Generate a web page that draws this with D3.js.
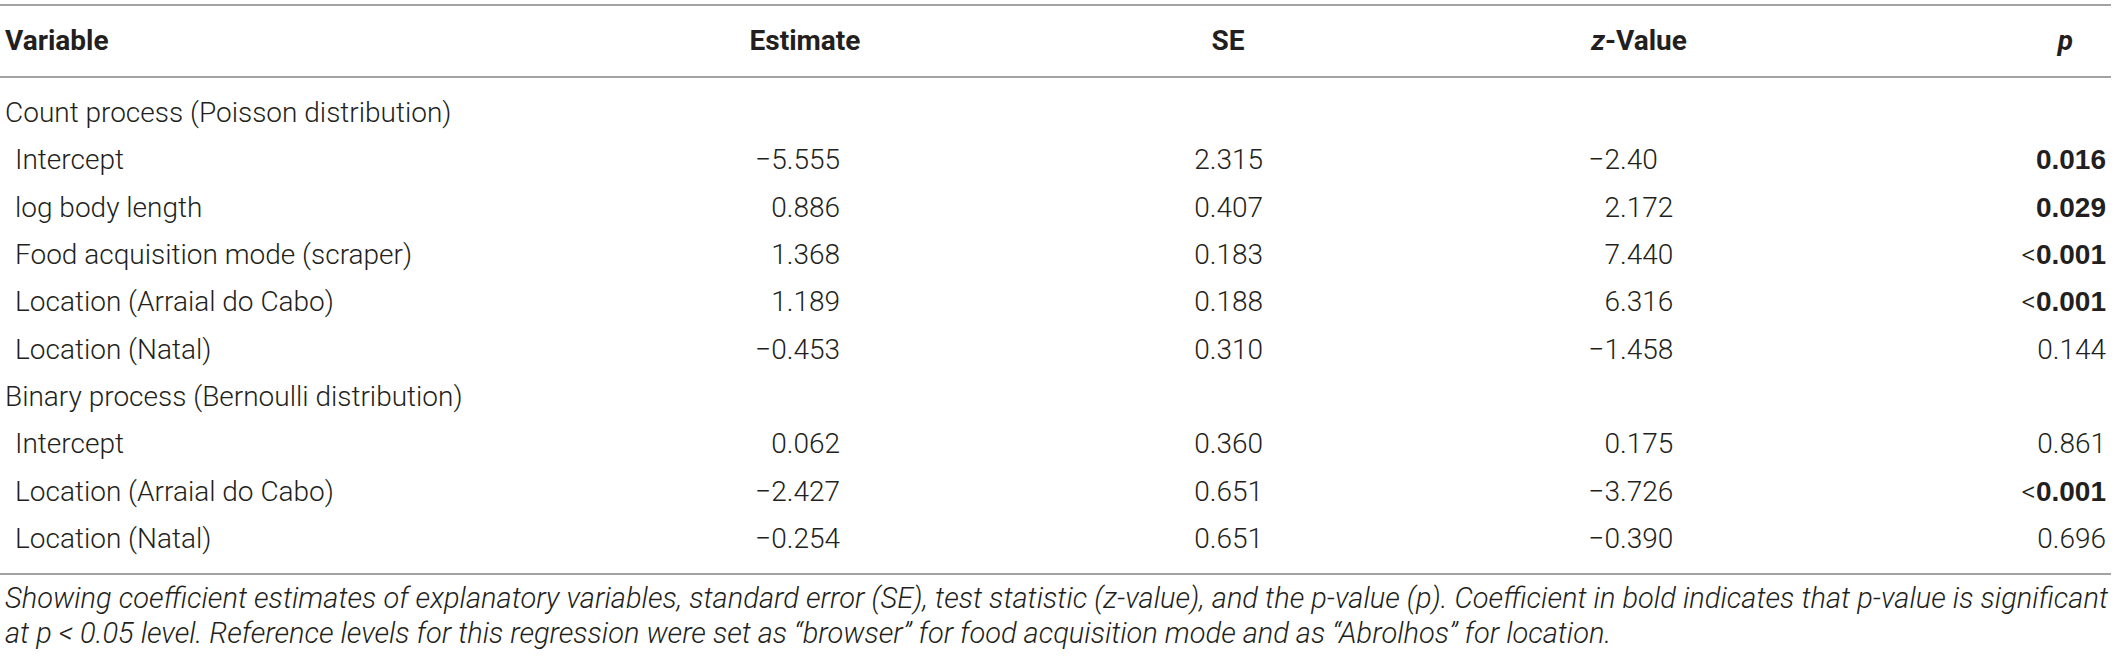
<!DOCTYPE html>
<html>
<head>
<meta charset="utf-8">
<script src="https://cdn.jsdelivr.net/npm/d3@7"></script>
<style>
  body { margin: 0; background: #fff; }
  svg { display: block; }
  text { font-family: Roboto, "Liberation Sans", Arial, sans-serif; fill: #231f20; }
</style>
</head>
<body>
<div id="container"></div>
<script>
// table content
const headers = ["Variable", "Estimate", "SE", "z-Value", "p"]

const variables = [
    "Count process (Poisson distribution)",
    "Intercept",
    "log body length",
    "Food acquisition mode (scraper)",
    "Location (Arraial do Cabo)",
    "Location (Natal)",
    "Binary process (Bernoulli distribution)",
    "Intercept",
    "Location (Arraial do Cabo)",
    "Location (Natal)"
]
const isGroup = [true, false, false, false, false, false, true, false, false, false]

const estimates = ["", "−5.555", "0.886", "1.368", "1.189", "−0.453", "", "0.062", "−2.427", "−0.254"]
const stdErrors = ["", "2.315", "0.407", "0.183", "0.188", "0.310", "", "0.360", "0.651", "0.651"]
const zValues   = ["", "−2.40", "2.172", "7.440", "6.316", "−1.458", "", "0.175", "−3.726", "−0.390"]
const pValues   = ["", "0.016", "0.029", "<0.001", "<0.001", "0.144", "", "0.861", "<0.001", "0.696"]
const pBold     = [false, true, true, true, true, false, false, false, true, false]

const captionLines = [
    "Showing coefficient estimates of explanatory variables, standard error (SE), test statistic (z-value), and the p-value (p). Coefficient in bold indicates that p-value is significant",
    "at p < 0.05 level. Reference levels for this regression were set as \u201cbrowser\u201d for food acquisition mode and as \u201cAbrolhos\u201d for location."
]

const width = 2118, height = 660
const fontSize = 28
const ruleColor = "#a3a3a3"

const svg = d3.select("#container").append("svg")
    .attr("width", width)
    .attr("height", height)

const y = d3.scalePoint()
    .domain(d3.range(variables.length))
    .range([122, 548])

// rules
const rules = [5, 77, 574]
svg.selectAll("line.rule")
    .data(rules)
    .enter()
    .append("line")
    .attr("class", "rule")
    .attr("x1", 0)
    .attr("x2", 2111)
    .attr("y1", d => d)
    .attr("y2", d => d)
    .attr("stroke", ruleColor)
    .attr("stroke-width", 2)

// header
const head = svg.append("g")
    .attr("font-weight", "bold")
    .style("font-family", '"Liberation Sans", Arial, sans-serif')
    .attr("font-size", fontSize)

head.append("text").attr("x", 5).attr("y", 50).text(headers[0])
head.append("text").attr("x", 805).attr("y", 50).attr("text-anchor", "middle").text(headers[1])
head.append("text").attr("x", 1228).attr("y", 50).attr("text-anchor", "middle").text(headers[2])
const zHead = head.append("text").attr("x", 1639).attr("y", 50).attr("text-anchor", "middle")
zHead.append("tspan").attr("font-style", "italic").text(headers[3].slice(0, 1))
zHead.append("tspan").text(headers[3].slice(1))
head.append("text").attr("x", 2073).attr("y", 50).attr("text-anchor", "end")
    .attr("font-style", "italic").text(headers[4])

// body
const body = svg.append("g")
    .attr("font-size", fontSize)
    .attr("font-weight", 300)

body.selectAll("text.var")
    .data(variables)
    .enter()
    .append("text")
    .attr("class", "var")
    .attr("x", (d, i) => isGroup[i] ? 5 : 15)
    .attr("y", (d, i) => y(i))
    .text(d => d)

function rightColumn(values, x, cls){
    body.selectAll("text." + cls)
        .data(values)
        .enter()
        .append("text")
        .attr("class", cls)
        .attr("x", x)
        .attr("y", (d, i) => y(i))
        .attr("text-anchor", "end")
        .text(d => d)
}

rightColumn(estimates, 840, "est")
rightColumn(stdErrors, 1263, "se")

// z-values are lined up on the decimal point
const zDot = 1620
body.selectAll("text.zint")
    .data(zValues)
    .enter()
    .append("text")
    .attr("class", "zint")
    .attr("x", zDot)
    .attr("y", (d, i) => y(i))
    .attr("text-anchor", "end")
    .text(d => d.split(".")[0])
body.selectAll("text.zfrac")
    .data(zValues)
    .enter()
    .append("text")
    .attr("class", "zfrac")
    .attr("x", zDot)
    .attr("y", (d, i) => y(i))
    .text(d => d ? "." + d.split(".")[1] : "")

const pText = body.selectAll("text.p")
    .data(pValues)
    .enter()
    .append("text")
    .attr("class", "p")
    .attr("x", 2106)
    .attr("y", (d, i) => y(i))
    .attr("text-anchor", "end")

pText.append("tspan")
    .text(d => d.startsWith("<") ? "<" : "")
pText.append("tspan")
    .attr("font-weight", (d, i) => pBold[i] ? "bold" : null)
    .style("font-family", (d, i) => pBold[i] ? '"Liberation Sans", Arial, sans-serif' : null)
    .text(d => d.replace("<", ""))

// caption
const caption = svg.append("g")
    .attr("font-size", 29)
    .attr("font-style", "italic")
    .attr("font-weight", 300)

caption.selectAll("text")
    .data(captionLines)
    .enter()
    .append("text")
    .attr("x", 5)
    .attr("y", (d, i) => 608 + i * 35)
    .attr("textLength", (d, i) => i === 0 ? 2103 : null)
    .attr("lengthAdjust", "spacing")
    .text(d => d)
</script>
</body>
</html>
